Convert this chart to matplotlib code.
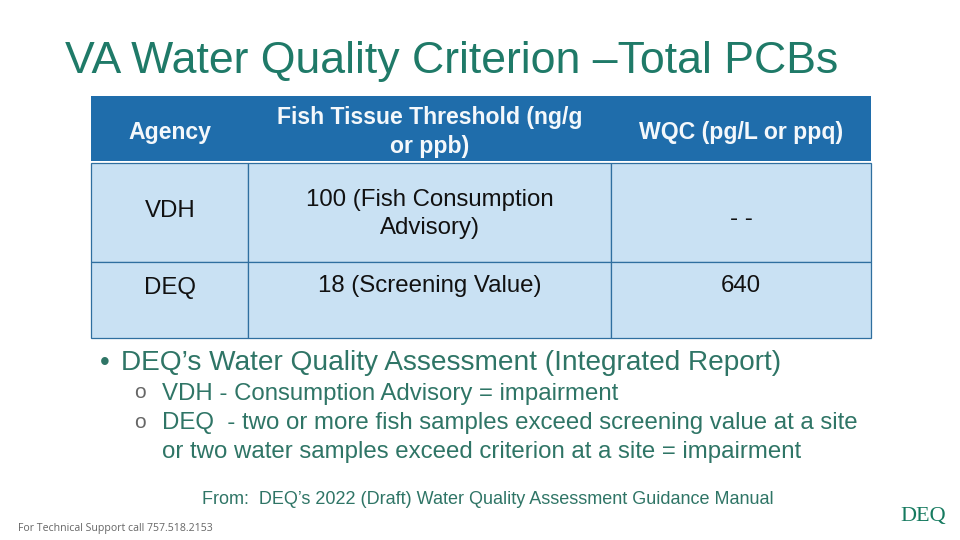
import matplotlib
matplotlib.use("Agg")
from matplotlib import pyplot as plt
from matplotlib.patches import Rectangle

plt.rcParams['font.family'] = ['Liberation Sans', 'DejaVu Sans']

GREEN = "#1f7a68"
BODY = "#2f7566"
HEAD = "#1f6dab"
CELL = "#c9e1f3"
EDGE = "#2f6f9f"

title = "VA Water Quality Criterion \u2013Total PCBs"
headers = ["Agency", "Fish Tissue Threshold (ng/g\nor ppb)", "WQC (pg/L or ppq)"]
agency = ["VDH", "DEQ"]
threshold = ["100 (Fish Consumption\nAdvisory)", "18 (Screening Value)"]
wqc = ["- -", "640"]

bullet = "DEQ\u2019s Water Quality Assessment (Integrated Report)"
sub_lines = ["VDH - Consumption Advisory = impairment",
             "DEQ  - two or more fish samples exceed screening value at a site",
             "or two water samples exceed criterion at a site = impairment"]
source = "From:  DEQ\u2019s 2022 (Draft) Water Quality Assessment Guidance Manual"
support = "For Technical Support call 757.518.2153"

col_x = [91, 248, 611, 871]
row_y = [96, 161, 262, 338]
agency_y = [211, 288]
threshold_y = [214, 286]
wqc_y = [219, 286]

fig = plt.figure(figsize=(9.6, 5.4), dpi=100)
ax = fig.add_axes([0, 0, 1, 1])
ax.set_xlim(0, 960)
ax.set_ylim(540, 0)
ax.axis("off")

ax.text(65, 62, title, fontsize=32.1, color=GREEN, va="center", ha="left")

# header band
ax.add_patch(Rectangle((col_x[0], row_y[0]), col_x[-1] - col_x[0], row_y[1] - row_y[0], fc=HEAD, ec="none"))
# body cells
for r in range(1, 3):
    for c in range(3):
        top = row_y[r] + (2 if r == 1 else 0)
        ax.add_patch(Rectangle((col_x[c], top), col_x[c + 1] - col_x[c], row_y[r + 1] - top,
                               fc=CELL, ec=EDGE, lw=0.9))

header_x = [170, 430, 741]
for x, h in zip(header_x, headers):
    ax.text(x, 132, h, fontsize=16.6, color="#f4f8fb", ha="center", va="center", linespacing=1.32,
            fontweight="bold")
for i in range(2):
    ax.text(header_x[0], agency_y[i], agency[i], fontsize=17.3, color="#111111", ha="center", va="center")
    ax.text(header_x[1], threshold_y[i], threshold[i], fontsize=17.3, color="#111111", ha="center", va="center", linespacing=1.38)
    ax.text(header_x[2], wqc_y[i], wqc[i], fontsize=17.3, color="#111111", ha="center", va="center")

ax.text(100, 363, "\u2022", fontsize=20, color=BODY, va="center")
ax.text(121, 363, bullet, fontsize=20.2, color=BODY, va="center")
ax.text(140, 393, "o", fontsize=15, color="#666666", va="center", ha="center")
ax.text(140, 422, "o", fontsize=15, color="#666666", va="center", ha="center")
for y, s in zip([394, 423, 452], sub_lines):
    ax.text(162, y, s, fontsize=17.3, color=BODY, va="center")

ax.text(488, 499, source, fontsize=13, color=BODY, ha="center", va="center")
ax.text(18, 529, support, fontsize=7.6, color="#666666", va="center", family="Open Sans")
ax.text(923, 516, "DEQ", fontsize=16, color="#157a5f", family="Liberation Serif", ha="center", va="center")

fig.savefig("out.png", dpi=100)
